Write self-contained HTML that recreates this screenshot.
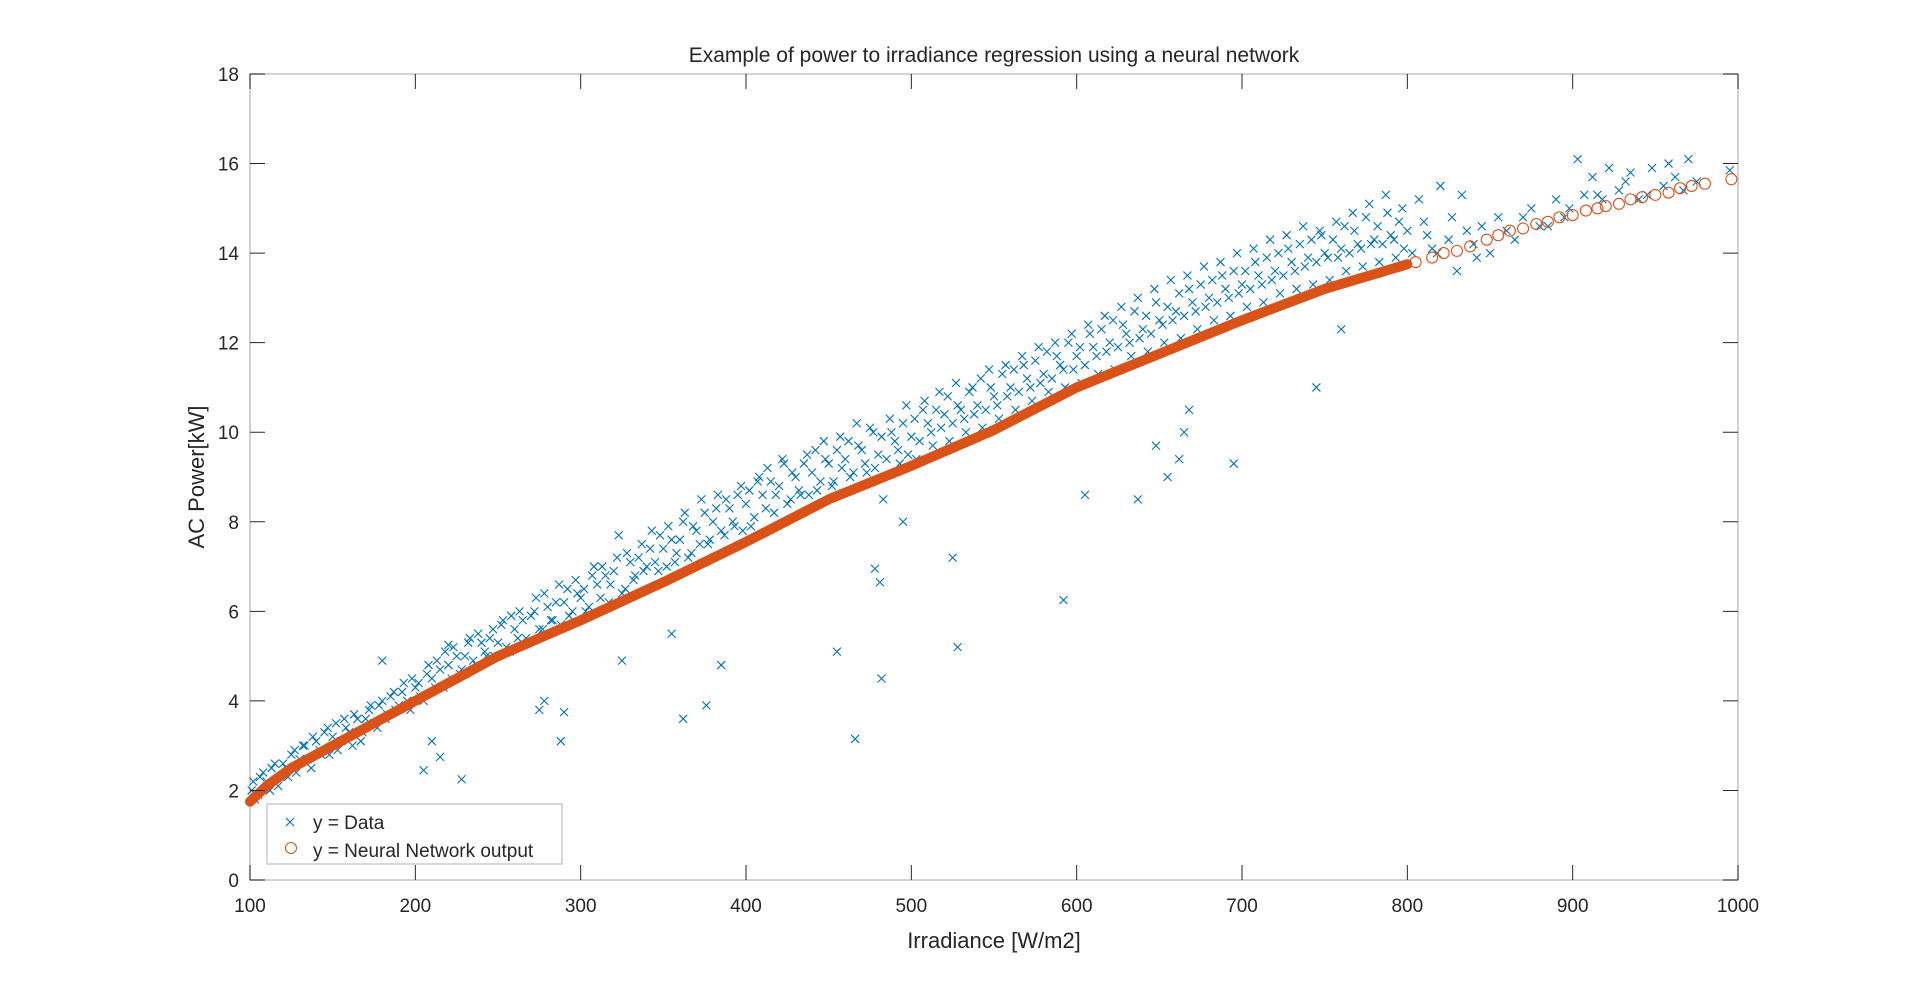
<!DOCTYPE html>
<html><head><meta charset="utf-8"><style>
html,body{margin:0;padding:0;background:#fff;width:1920px;height:990px;overflow:hidden}
text{font-family:"Liberation Sans",sans-serif;fill:#262626}
</style></head><body>
<svg id="chart" width="1920" height="990" xmlns="http://www.w3.org/2000/svg">
<g id="plot"></g>
</svg>
<script>
const xTicks=[100,200,300,400,500,600,700,800,900,1000];
const yTicks=[0,2,4,6,8,10,12,14,16,18];
const nnCurve=[[100,1.75],[110,2.1],[125,2.5],[150,3.0],[175,3.5],[200,4.0],[225,4.5],[250,5.0],[275,5.4],[300,5.8],[350,6.65],[400,7.55],[450,8.5],[480,8.95],[500,9.25],[550,10.05],[600,11.0],[650,11.75],[700,12.5],[750,13.2],[800,13.75]];
const nnSparse=[[805,13.8],[815,13.9],[822,14.0],[830,14.05],[838,14.15],[848,14.3],[855,14.4],[862,14.5],[870,14.55],[878,14.65],[885,14.7],[892,14.8],[900,14.85],[908,14.95],[915,15.0],[920,15.05],[928,15.1],[935,15.2],[942,15.25],[950,15.3],[958,15.35],[965,15.45],[972,15.5],[980,15.55],[996,15.65]];
const dataPts=[[101,2.0],[103,1.8],[106,2.3],[110,2.2],[113,2.5],[117,2.1],[120,2.6],[123,2.3],[127,2.9],[130,2.7],[133,3.0],[137,2.5],[140,3.1],[143,2.8],[147,3.4],[150,3.2],[153,2.9],[157,3.6],[160,3.3],[163,3.7],[167,3.1],[170,3.6],[173,3.9],[177,3.4],[180,4.0],[183,3.7],[187,4.2],[190,3.9],[193,4.4],[197,3.8],[200,4.3],[203,4.1],[207,4.6],
[180,4.9],[205,2.45],[215,2.75],[228,2.25],[210,3.1],
[210,4.5],[213,4.9],[217,4.3],[220,4.8],[223,5.2],[227,4.6],[230,5.0],[233,5.4],[237,4.8],[240,5.3],[243,5.0],[247,5.6],[250,5.3],[253,5.8],[257,5.1],[260,5.6],[263,6.0],[267,5.4],[270,5.9],[273,6.3],[277,5.6],[280,6.1],[283,5.8],[287,6.6],[290,6.2],[293,5.9],[297,6.7],[300,6.3],[303,6.0],[307,6.8],
[275,3.8],[278,4.0],[288,3.1],[290,3.75],[220,5.25],
[310,6.6],[313,7.0],[317,6.2],[320,6.9],[323,7.7],[327,6.5],[330,7.1],[333,6.8],[337,7.5],[340,7.0],[343,7.8],[347,6.9],[350,7.4],[353,7.9],[357,7.1],[360,7.6],[363,8.2],[367,7.3],[370,7.8],[373,8.5],[377,7.5],[380,8.0],[383,8.6],[387,7.7],[390,8.3],[393,7.9],[397,8.8],[400,8.4],[403,7.9],[407,8.9],
[325,4.9],[355,5.5],[362,3.6],[376,3.9],[385,4.8],
[410,8.6],[413,9.2],[417,8.2],[420,8.8],[423,9.3],[427,8.5],[430,9.0],[433,8.6],[437,9.5],[440,9.1],[443,8.7],[447,9.8],[450,9.3],[453,8.9],[457,9.9],[460,9.4],[463,9.0],[467,10.2],[470,9.6],[473,9.1],[477,10.0],[480,9.5],[483,8.5],[487,10.3],[490,9.8],[493,9.3],[497,10.6],[500,9.9],[503,9.4],[507,10.5],
[455,5.1],[466,3.15],[478,6.95],[481,6.65],[482,4.5],[495,8.0],
[510,10.2],[513,9.7],[517,10.9],[520,10.4],[523,9.8],[527,11.1],[530,10.5],[533,10.0],[537,11.0],[540,10.6],[543,10.1],[547,11.4],[550,10.8],[553,10.3],[557,11.5],[560,11.0],[563,10.5],[567,11.7],[570,11.2],[573,10.7],[577,11.9],[580,11.3],[583,10.9],[587,12.0],[590,11.5],[593,11.0],[597,12.2],[600,11.7],[603,11.1],[607,12.4],
[525,7.2],[528,5.2],[592,6.25],[605,8.6],
[610,11.9],[613,11.3],[617,12.6],[620,12.0],[623,11.4],[627,12.8],[630,12.2],[633,11.7],[637,13.0],[640,12.3],[643,11.8],[647,13.2],[650,12.5],[653,12.0],[657,13.4],[660,12.7],[663,12.1],[667,13.5],[670,12.9],[673,12.3],[677,13.7],[680,13.0],[683,12.5],[687,13.8],[690,13.2],[693,12.6],[697,14.0],[700,13.3],[703,12.8],[707,14.1],
[637,8.5],[655,9.0],[662,9.4],[665,10.0],[668,10.5],[695,9.3],[648,9.7],
[710,13.5],[713,12.9],[717,14.3],[720,13.6],[723,13.1],[727,14.4],[730,13.8],[733,13.2],[737,14.6],[740,13.9],[743,13.3],[747,14.5],[750,14.0],[753,13.4],[757,14.7],[760,14.1],[763,13.6],[767,14.9],[770,14.2],[773,13.7],[777,15.1],[780,14.3],[783,13.8],[787,15.3],[790,14.4],[793,13.9],[797,15.0],[800,14.5],[803,14.0],[807,15.2],
[745,11.0],[760,12.3],
[810,14.7],[815,14.1],[820,15.5],[825,14.3],[830,13.6],[833,15.3],[840,14.2],[845,14.6],[850,14.0],[860,14.5],[870,14.8],[875,15.0],[880,14.6],[890,15.2],[895,14.8],[903,16.1],[907,15.3],[912,15.7],[918,15.2],[922,15.9],[928,15.4],[935,15.8],[940,15.2],[948,15.9],[955,15.5],[962,15.7],[970,16.1],[975,15.6],[995,15.85]];
const dataPtsB=[[102,2.2],[105,1.9],[108,2.4],[112,2.0],[115,2.6],[118,2.3],[122,2.5],[125,2.8],[128,2.4],[132,3.0],[135,2.7],[138,3.2],[142,2.9],[145,3.3],[148,2.8],[152,3.5],[155,3.1],[158,3.4],[162,3.0],[165,3.6],[168,3.3],[172,3.8],[175,3.5],[178,3.9],[182,3.6],[185,4.1],[188,3.8],[192,4.2],[195,4.0],[198,4.5],
[202,4.4],[205,4.0],[208,4.8],[212,4.3],[215,4.7],[218,5.1],[222,4.5],[225,5.0],[228,4.7],[232,5.3],[235,4.9],[238,5.5],[242,5.1],[245,5.4],[248,5.0],[252,5.7],[255,5.2],[258,5.9],[262,5.4],[265,5.8],[268,5.3],[272,6.0],[275,5.6],[278,6.4],[282,5.8],[285,6.2],[288,5.7],[292,6.5],[295,6.0],[298,6.4],
[302,6.5],[305,6.1],[308,7.0],[312,6.3],[315,6.8],[318,6.6],[322,7.2],[325,6.4],[328,7.3],[332,6.7],[335,7.2],[338,6.9],[342,7.4],[345,7.1],[348,7.7],[352,7.0],[355,7.6],[358,7.3],[362,8.0],[365,7.2],[368,7.9],[372,7.5],[375,8.2],[378,7.6],[382,8.3],[385,7.8],[388,8.5],[392,8.0],[395,8.6],[398,7.8],
[402,8.7],[405,8.1],[408,9.0],[412,8.3],[415,8.9],[418,8.6],[422,9.4],[425,8.4],[428,9.1],[432,8.7],[435,9.3],[438,8.6],[442,9.6],[445,8.9],[448,9.4],[452,8.8],[455,9.6],[458,9.2],[462,9.8],[465,9.1],[468,9.7],[472,9.3],[475,10.1],[478,9.2],[482,9.9],[485,9.4],[488,10.0],[492,9.6],[495,10.2],[498,9.5],
[502,10.3],[505,9.8],[508,10.7],[512,10.0],[515,10.5],[518,10.1],[522,10.8],[525,10.2],[528,10.6],[532,10.3],[535,10.9],[538,10.4],[542,11.2],[545,10.5],[548,11.0],[552,10.6],[555,11.3],[558,10.8],[562,11.4],[565,10.9],[568,11.5],[572,11.0],[575,11.6],[578,11.1],[582,11.8],[585,11.2],[588,11.7],[592,11.4],[595,12.0],[598,11.4],
[602,11.9],[605,11.5],[608,12.2],[612,11.7],[615,12.3],[618,11.8],[622,12.5],[625,11.9],[628,12.4],[632,12.0],[635,12.7],[638,12.1],[642,12.6],[645,12.2],[648,12.9],[652,12.4],[655,12.8],[658,12.5],[662,13.1],[665,12.6],[668,13.2],[672,12.7],[675,13.3],[678,12.8],[682,13.4],[685,12.9],[688,13.5],[692,13.0],[695,13.6],[698,13.1],
[702,13.6],[705,13.2],[708,13.8],[712,13.3],[715,13.9],[718,13.4],[722,14.0],[725,13.5],[728,14.1],[732,13.6],[735,14.2],[738,13.7],[742,14.3],[745,13.8],[748,14.4],[752,13.9],[755,14.3],[758,13.9],[762,14.6],[765,14.0],[768,14.5],[772,14.1],[775,14.8],[778,14.2],[782,14.6],[785,14.2],[788,14.9],[792,14.3],[795,14.7],[798,14.1],
[812,14.4],[818,14.0],[827,14.8],[836,14.5],[842,13.9],[855,14.8],[865,14.3],[885,14.6],[898,15.0],[915,15.3],[932,15.6],[945,15.3],[958,16.0],[967,15.4]];

const L=250,R=1738,T=74,B=880,XMIN=100,XMAX=1000,YMIN=0,YMAX=18;
const sx=v=>L+(v-XMIN)/(XMAX-XMIN)*(R-L);
const sy=v=>B-(v-YMIN)/(YMAX-YMIN)*(B-T);
const NS="http://www.w3.org/2000/svg";
const svg=document.getElementById('chart');
function mk(tag,attrs,parent){const e=document.createElementNS(NS,tag);for(const k in attrs)e.setAttribute(k,attrs[k]);(parent||svg).appendChild(e);return e;}
const plot=document.getElementById('plot');

const box=mk('rect',{x:L,y:T,width:R-L,height:B-T,fill:'none',stroke:'#c4c4c4','stroke-width':1.5},plot);



const dg=mk('g',{stroke:'#0072BD','stroke-width':1.1,fill:'none'},plot);


dataPts.concat(dataPtsB).forEach(p=>{const x=sx(p[0]),y=sy(p[1]),s=4;
 const m=mk('path',{d:`M${x-s},${y-s}L${x+s},${y+s}M${x-s},${y+s}L${x+s},${y-s}`},dg);
 
 });

const ng=mk('g',{},plot);


const band=mk('path',{d:'M'+nnCurve.map(p=>sx(p[0])+','+sy(p[1])).join('L'),stroke:'#D95319','stroke-width':10,fill:'none','stroke-linecap':'round','stroke-linejoin':'round'},ng);


nnSparse.forEach(p=>{const c=mk('circle',{cx:sx(p[0]),cy:sy(p[1]),r:5.5,fill:'none',stroke:'#D95319','stroke-width':1.1},ng);
 
 });

const tg=mk('g',{stroke:'#262626','stroke-width':1},svg);


xTicks.forEach(v=>{const x=sx(v);
 mk('path',{d:`M${x},${B}V${B-15}M${x},${T}V${T+15}`},tg);
 const t=mk('text',{x:x,y:912,'text-anchor':'middle','font-size':19});t.textContent=v;
 
 });
yTicks.forEach(v=>{const y=sy(v);
 mk('path',{d:`M${L},${y}H${L+15}M${R},${y}H${R-15}`},tg);
 const t=mk('text',{x:239,y:y+7,'text-anchor':'end','font-size':19});t.textContent=v;
 
 });
</script>
<svg style="position:absolute;left:0;top:0" width="1920" height="990">
<text x="994" y="62" text-anchor="middle" font-size="21">Example of power to irradiance regression using a neural network</text>
<text x="994" y="948" text-anchor="middle" font-size="22">Irradiance [W/m2]</text>
<text transform="translate(204,477) rotate(-90)" text-anchor="middle" font-size="22">AC Power[kW]</text>
<g>
<rect x="267" y="804" width="295" height="60" fill="#fff" stroke="#bdbdbd" stroke-width="1.2"/>
<path d="M286,818L294,826M286,826L294,818" stroke="#0072BD" stroke-width="1.1"/>
<text x="313" y="829" font-size="19">y = Data</text>
<circle cx="291" cy="848" r="5.5" fill="none" stroke="#D95319" stroke-width="1.1"/>
<text x="313" y="857" font-size="19">y = Neural Network output</text>
</g>
</svg>
</body></html>
